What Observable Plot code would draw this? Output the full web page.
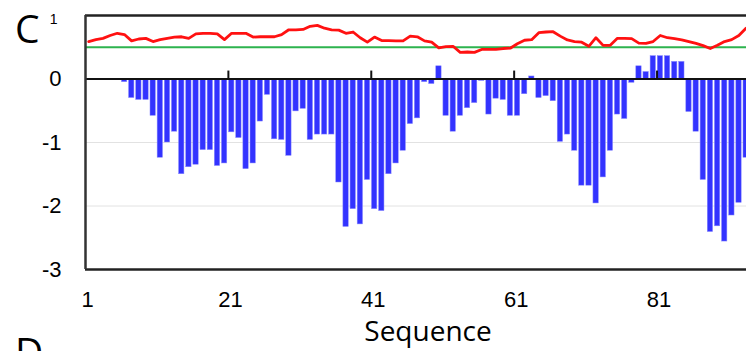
<!DOCTYPE html>
<html>
<head>
<meta charset="utf-8">
<script src="https://cdn.jsdelivr.net/npm/d3@7"></script>
<script src="https://cdn.jsdelivr.net/npm/@observablehq/plot@0.6"></script>
<style>
  html, body { margin: 0; padding: 0; background: #fff; overflow: hidden; }
  #wrap { position: relative; width: 746px; height: 351px; overflow: hidden; }
  #chart svg { max-width: none !important; width: 800px !important; height: 351px !important; display: block; }
  .lbl { position: absolute; font-family: "Open Sans", sans-serif; color: #000; line-height: 1; white-space: nowrap; }
</style>
</head>
<body>
<div id="wrap">
  <div id="chart"></div>
  <div class="lbl" style="left:15px; top:8px; font-size:39px;">C</div>
  <div class="lbl" style="left:15px; top:331px; font-size:39px;">D</div>
  <div class="lbl" id="xlabel" style="left:428px; top:316px; font-size:28px; transform:translateX(-50%);">Sequence</div>
</div>
<script>
// Hydrophobicity-style profile: blue bars per residue, red line, green threshold
const barValues = [
  0, 0, 0, 0, 0, -0.05, -0.30, -0.33, -0.33, -0.58,
  -1.24, -1.00, -0.83, -1.50, -1.39, -1.35, -1.12, -1.12, -1.37, -1.33,
  -0.84, -0.93, -1.42, -1.33, -0.67, -0.25, -0.95, -0.96, -1.21, -0.51,
  -0.47, -0.96, -0.875, -0.875, -0.875, -1.63, -2.33, -2.05, -2.29, -1.59,
  -2.05, -2.08, -1.50, -1.33, -1.13, -0.71, -0.62, -0.05, -0.08, 0.20,
  -0.58, -0.83, -0.58, -0.46, -0.38, -0.03, -0.56, -0.31, -0.33, -0.58,
  -0.58, -0.24, 0.04, -0.30, -0.27, -0.35, -0.99, -0.875, -1.13, -1.68,
  -1.68, -1.96, -1.55, -1.13, -0.56, -0.63, -0.06, 0.20, 0.11, 0.36,
  0.36, 0.36, 0.27, 0.27, -0.52, -0.83, -1.59, -2.41, -2.32, -2.56,
  -2.15, -1.95, -1.24
];
const lineValues = [
  0.59, 0.62, 0.64, 0.685, 0.72, 0.70, 0.60, 0.63, 0.64, 0.59,
  0.62, 0.64, 0.66, 0.665, 0.64, 0.71, 0.72, 0.72, 0.71, 0.62,
  0.72, 0.72, 0.72, 0.66, 0.665, 0.665, 0.665, 0.70, 0.775, 0.775,
  0.78, 0.83, 0.845, 0.80, 0.775, 0.77, 0.72, 0.74, 0.65, 0.58,
  0.66, 0.605, 0.605, 0.60, 0.60, 0.675, 0.665, 0.60, 0.58, 0.49,
  0.51, 0.515, 0.42, 0.425, 0.42, 0.465, 0.465, 0.465, 0.48, 0.485,
  0.555, 0.61, 0.62, 0.73, 0.74, 0.745, 0.675, 0.615, 0.59, 0.58,
  0.515, 0.65, 0.53, 0.53, 0.64, 0.64, 0.635, 0.565, 0.56, 0.59,
  0.685, 0.65, 0.635, 0.615, 0.59, 0.56, 0.525, 0.48, 0.53, 0.59,
  0.62, 0.685, 0.80
];
const threshold = 0.5;
const xTicks = [1, 21, 41, 61, 81];
const yTicks = [0, -1, -2, -3];
const yTop = 1;
const gridValues = [-1, -2];

const bars = barValues.map((v, i) => ({pos: i + 1, v}));
const line = lineValues.map((v, i) => ({pos: i + 1, v}));

const chart = Plot.plot({
  width: 800,
  height: 351,
  marginLeft: 85,
  marginRight: 22,
  marginTop: 15,
  marginBottom: 82,
  style: {fontFamily: "'Liberation Sans', Arial, sans-serif", fontSize: "22px", color: "#000", background: "#fff", overflow: "visible", maxWidth: "none"},
  x: {domain: [1, 98]},
  y: {domain: [-3, 1]},
  marks: [
    Plot.ruleY(gridValues, {stroke: "#e2e2e2", strokeWidth: 1}),
    Plot.rect(bars, {x1: "pos", x2: d => d.pos + 1, y1: 0, y2: "v", fill: "#3333ff", stroke: "#8a8aff", strokeWidth: 0.5, insetLeft: 0.7, insetRight: 1.1}),
    Plot.ruleY([threshold], {stroke: "#2db34e", strokeWidth: 2.2}),
    Plot.line(line, {x: d => d.pos + 0.45, y: "v", stroke: "#ff1111", strokeWidth: 2.8, curve: "linear"}),
    Plot.ruleY([0], {stroke: "#111", strokeWidth: 2}),
    Plot.ruleX(xTicks.slice(1), {y1: 0, y2: 0.125, stroke: "#111", strokeWidth: 2}),
    Plot.ruleY([yTop], {stroke: "#222", strokeWidth: 2.5}),
    Plot.ruleY([-3], {stroke: "#222", strokeWidth: 2.5}),
    Plot.ruleX([1], {stroke: "#333", strokeWidth: 2.5}),
    Plot.axisX(xTicks, {tickSize: 0, tickPadding: 22, dx: 2, fontSize: 22, label: null, tickFormat: d => String(d)}),
    Plot.axisY(yTicks, {tickSize: 0, tickPadding: 24, fontSize: 22, label: null, tickFormat: d => String(d)}),
    Plot.text([yTop], {y: d => d, text: d => String(d), frameAnchor: "left", textAnchor: "end", dx: -28, dy: 4, fontSize: 14})
  ]
});
document.getElementById("chart").appendChild(chart);
</script>
</body>
</html>
